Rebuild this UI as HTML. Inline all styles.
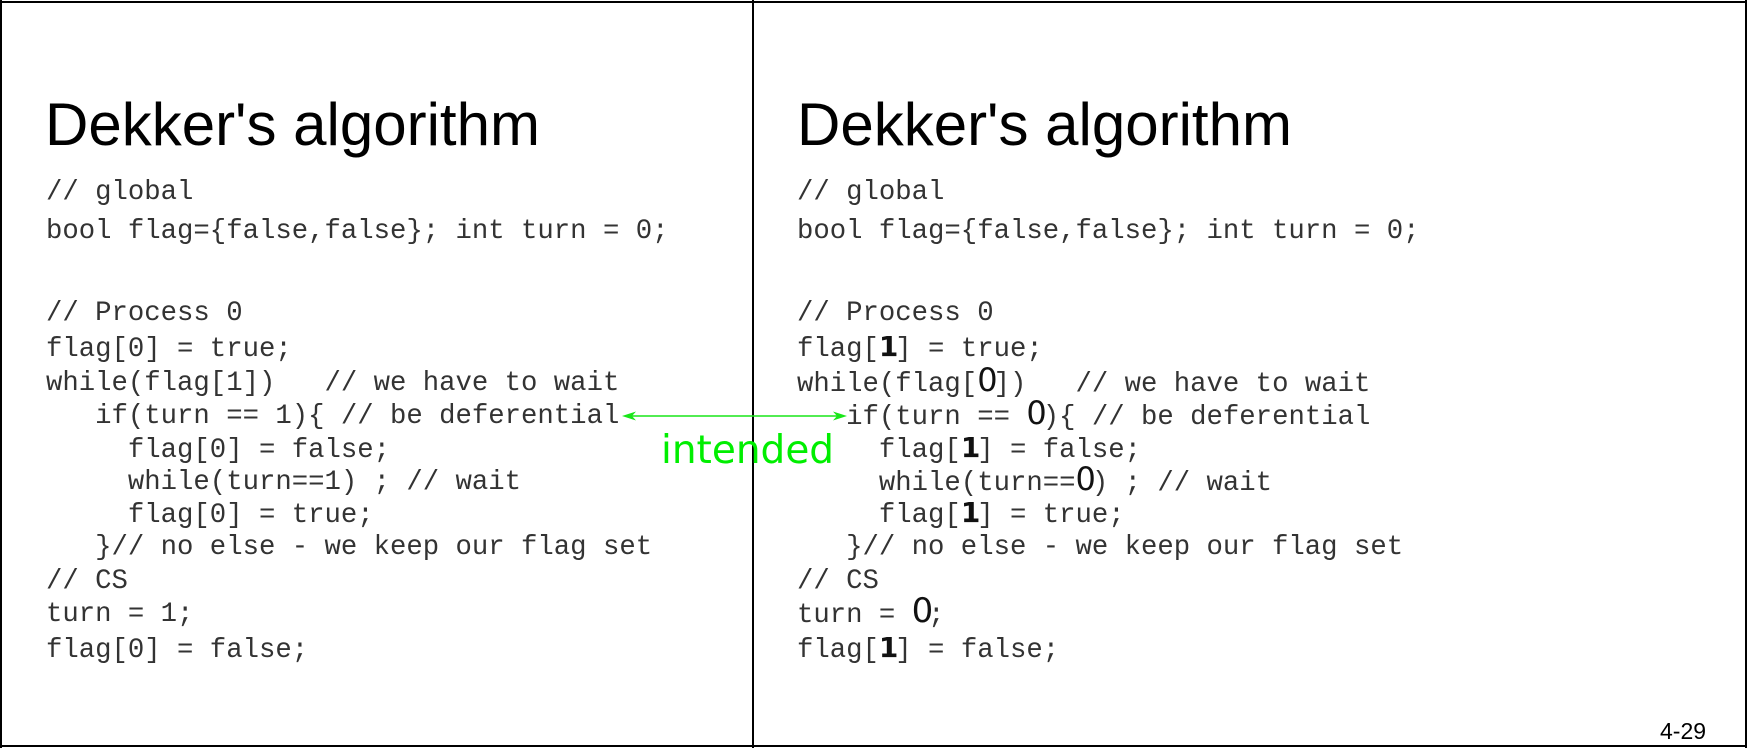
<!DOCTYPE html>
<html><head><meta charset="utf-8"><style>
html,body{margin:0;padding:0;background:#fff}
#p{position:relative;width:1747px;height:748px;overflow:hidden;background:#fff}
.b{position:absolute;background:#000}
.t{position:absolute;font-family:"Liberation Sans",sans-serif;font-size:60px;line-height:60px;white-space:pre;color:#000}
.c{position:absolute;font-family:"Liberation Mono",monospace;font-size:27.3px;line-height:27px;white-space:pre;color:#333}
.d{display:inline-block;width:16.4px;text-align:center;font-family:"DejaVu Sans",sans-serif;font-weight:bold;font-size:28px;line-height:20px;color:#111}
.z{display:inline-block;width:16.4px;text-align:center;font-family:"DejaVu Sans",sans-serif;font-size:32px;line-height:20px;color:#111}
</style></head><body><div id="p">
<div class="b" style="left:0;top:1px;width:1747px;height:2px"></div>
<div class="b" style="left:0;top:745px;width:1747px;height:2px"></div>
<div class="b" style="left:0;top:0;width:2px;height:748px"></div>
<div class="b" style="left:1745px;top:0;width:2px;height:748px"></div>
<div class="b" style="left:752px;top:0;width:2px;height:748px"></div>

<div class="t" style="left:45px;top:95px">Dekker's algorithm</div>
<div class="c" style="left:46px;top:179px">// global</div>
<div class="c" style="left:46px;top:218px">bool flag={false,false}; int turn = 0;</div>
<div class="c" style="left:46px;top:300px">// Process 0</div>
<div class="c" style="left:46px;top:336px">flag[0] = true;</div>
<div class="c" style="left:46px;top:370px">while(flag[1])   // we have to wait</div>
<div class="c" style="left:46px;top:403px">   if(turn == 1){ // be deferential</div>
<div class="c" style="left:46px;top:437px">     flag[0] = false;</div>
<div class="c" style="left:46px;top:469px">     while(turn==1) ; // wait</div>
<div class="c" style="left:46px;top:502px">     flag[0] = true;</div>
<div class="c" style="left:46px;top:534px">   }// no else - we keep our flag set</div>
<div class="c" style="left:46px;top:568px">// CS</div>
<div class="c" style="left:46px;top:601px">turn = 1;</div>
<div class="c" style="left:46px;top:637px">flag[0] = false;</div>

<div class="t" style="left:797px;top:95px">Dekker's algorithm</div>
<div class="c" style="left:797px;top:179px">// global</div>
<div class="c" style="left:797px;top:218px">bool flag={false,false}; int turn = 0;</div>
<div class="c" style="left:797px;top:300px">// Process 0</div>
<div class="c" style="left:797px;top:336px">flag[<span class="d">1</span>] = true;</div>
<div class="c" style="left:797px;top:370px">while(flag[<span class="z">0</span>])   // we have to wait</div>
<div class="c" style="left:797px;top:403px">   if(turn == <span class="z">0</span>){ // be deferential</div>
<div class="c" style="left:797px;top:437px">     flag[<span class="d">1</span>] = false;</div>
<div class="c" style="left:797px;top:469px">     while(turn==<span class="z">0</span>) ; // wait</div>
<div class="c" style="left:797px;top:502px">     flag[<span class="d">1</span>] = true;</div>
<div class="c" style="left:797px;top:534px">   }// no else - we keep our flag set</div>
<div class="c" style="left:797px;top:568px">// CS</div>
<div class="c" style="left:797px;top:601px">turn = <span class="z" style="font-size:34px">0</span>;</div>
<div class="c" style="left:797px;top:637px">flag[<span class="d">1</span>] = false;</div>

<svg style="position:absolute;left:0;top:0" width="1747" height="748">
<line x1="626" y1="416" x2="843" y2="416" stroke="#19e619" stroke-width="1.5"/>
<polygon points="622,416 636,411.5 632,416 636,420.5" fill="#19e619"/>
<polygon points="847,416 833,411.5 837,416 833,420.5" fill="#19e619"/>
</svg>
<div style="position:absolute;left:661px;top:431px;font-family:'DejaVu Sans',sans-serif;font-size:39px;line-height:39px;color:#00ee00;white-space:pre">intended</div>
<div style="position:absolute;left:1660px;top:720px;font-family:'Liberation Sans',sans-serif;font-size:23px;line-height:23px;color:#000">4-29</div>
</div></body></html>
